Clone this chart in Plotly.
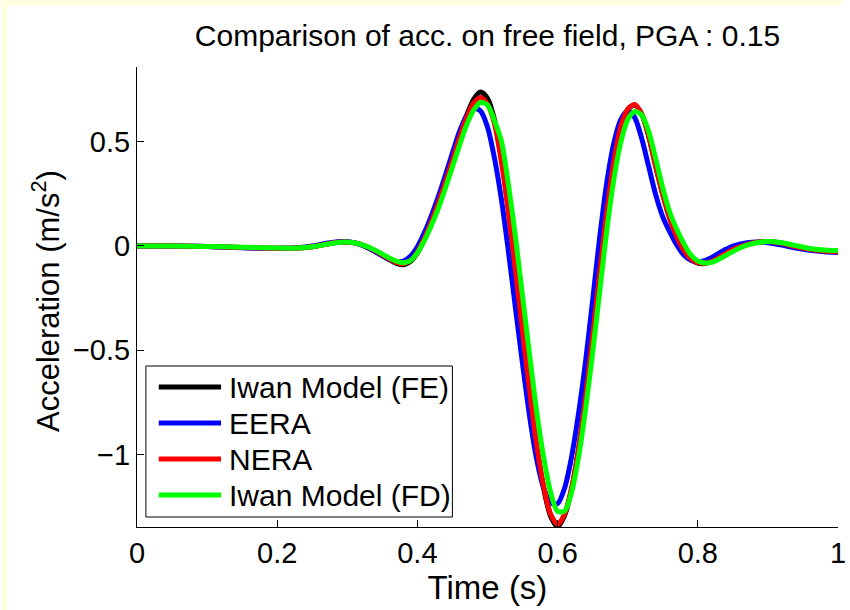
import plotly.graph_objects as go

# Time samples (s)
time_s = [0.00, 0.05, 0.10, 0.15, 0.20, 0.23, 0.25, 0.27, 0.29, 0.31, 0.33, 0.35,
          0.36, 0.37, 0.38, 0.39, 0.40, 0.41, 0.42, 0.43, 0.44, 0.45, 0.46, 0.47,
          0.48, 0.49, 0.50, 0.51, 0.52, 0.53, 0.54, 0.55, 0.56, 0.57, 0.58, 0.59,
          0.60, 0.61, 0.62, 0.63, 0.64, 0.65, 0.66, 0.67, 0.68, 0.69, 0.70, 0.71,
          0.72, 0.73, 0.74, 0.75, 0.76, 0.77, 0.78, 0.79, 0.80, 0.81, 0.82, 0.83,
          0.84, 0.85, 0.87, 0.89, 0.90, 0.92, 0.94, 0.96, 0.98, 1.00]

# Free-field acceleration (m/s^2)
iwan_fe = [0.000, 0.000, -0.002, -0.007, -0.011, -0.010, -0.004, 0.009, 0.019, 0.015, -0.008, -0.046,
           -0.066, -0.083, -0.090, -0.075, -0.033, 0.033, 0.113, 0.205, 0.307, 0.414, 0.524, 0.624,
           0.702, 0.738, 0.708, 0.605, 0.415, 0.168, -0.118, -0.412, -0.695, -0.958, -1.160, -1.295,
           -1.345, -1.292, -1.165, -0.972, -0.720, -0.428, -0.126, 0.163, 0.402, 0.570, 0.654, 0.676,
           0.632, 0.527, 0.384, 0.250, 0.135, 0.048, -0.019, -0.063, -0.082, -0.084, -0.075, -0.057,
           -0.037, -0.018, 0.008, 0.020, 0.021, 0.013, -0.003, -0.016, -0.024, -0.027]

eera = [0.000, 0.000, -0.003, -0.009, -0.012, -0.008, 0.000, 0.013, 0.022, 0.016, -0.010, -0.047,
        -0.064, -0.075, -0.073, -0.050, -0.004, 0.064, 0.146, 0.238, 0.340, 0.446, 0.548, 0.624,
        0.660, 0.648, 0.570, 0.420, 0.220, -0.030, -0.300, -0.565, -0.815, -1.020, -1.160, -1.232,
        -1.235, -1.160, -1.010, -0.800, -0.550, -0.260, 0.040, 0.300, 0.490, 0.605, 0.648, 0.615,
        0.515, 0.380, 0.245, 0.140, 0.068, 0.005, -0.043, -0.068, -0.076, -0.070, -0.055, -0.035,
        -0.016, 0.000, 0.016, 0.019, 0.016, 0.004, -0.010, -0.021, -0.028, -0.031]

nera = [0.000, 0.000, -0.002, -0.007, -0.011, -0.010, -0.004, 0.009, 0.019, 0.016, -0.006, -0.043,
        -0.062, -0.078, -0.085, -0.070, -0.028, 0.038, 0.118, 0.208, 0.308, 0.412, 0.518, 0.612,
        0.684, 0.712, 0.680, 0.585, 0.400, 0.160, -0.120, -0.410, -0.690, -0.950, -1.150, -1.285,
        -1.335, -1.285, -1.160, -0.970, -0.720, -0.430, -0.130, 0.160, 0.400, 0.570, 0.655, 0.678,
        0.632, 0.525, 0.380, 0.245, 0.130, 0.045, -0.020, -0.062, -0.080, -0.082, -0.073, -0.056,
        -0.036, -0.017, 0.008, 0.020, 0.021, 0.013, -0.003, -0.016, -0.024, -0.027]

iwan_fd = [0.000, 0.000, -0.002, -0.006, -0.010, -0.010, -0.004, 0.008, 0.018, 0.016, -0.005, -0.039,
           -0.058, -0.073, -0.080, -0.070, -0.033, 0.027, 0.100, 0.182, 0.278, 0.380, 0.482, 0.578,
           0.650, 0.688, 0.676, 0.600, 0.500, 0.290, 0.040, -0.240, -0.520, -0.790, -1.010, -1.180,
           -1.272, -1.270, -1.180, -1.010, -0.780, -0.510, -0.220, 0.070, 0.315, 0.495, 0.605, 0.645,
           0.628, 0.548, 0.418, 0.278, 0.162, 0.080, 0.012, -0.043, -0.072, -0.081, -0.078, -0.064,
           -0.045, -0.026, 0.004, 0.019, 0.022, 0.016, 0.002, -0.012, -0.019, -0.022]

series_names = ["Iwan Model (FE)", "EERA", "NERA", "Iwan Model (FD)"]
series_colors = ["#000000", "#0000FF", "#FF0000", "#00FF00"]
series_values = [iwan_fe, eera, nera, iwan_fd]

x_ticks = [0, 0.2, 0.4, 0.6, 0.8, 1]
x_ticktext = ["0", "0.2", "0.4", "0.6", "0.8", "1"]
y_ticks = [-1, -0.5, 0, 0.5]
y_ticktext = ["\u22121", "\u22120.5", "0", "0.5"]

FONT = "Liberation Sans, Arial, Helvetica, sans-serif"
W, H = 850, 610
ML, MR, MT, MB = 137, 4, 67, 83
PW, PH = W - ML - MR, H - MT - MB


def px_x(px):
    return (px - ML) / PW


def px_y(py):
    return (H - MB - py) / PH


fig = go.Figure()
for name, color, vals in zip(series_names, series_colors, series_values):
    fig.add_trace(go.Scatter(
        x=time_s, y=vals, name=name, mode="lines",
        line=dict(color=color, width=5, shape="spline", smoothing=0.8),
        showlegend=False,
    ))

shapes = [
    # pale yellow frame on the left and top edges
    dict(type="rect", xref="paper", yref="paper", x0=px_x(0), x1=px_x(6), y0=px_y(H), y1=px_y(0),
         fillcolor="#FFFFDD", line=dict(width=0), layer="below"),
    dict(type="rect", xref="paper", yref="paper", x0=px_x(0), x1=px_x(W), y0=px_y(5), y1=px_y(0),
         fillcolor="#FFFFDD", line=dict(width=0), layer="below"),
    # legend box
    dict(type="rect", xref="paper", yref="paper", x0=px_x(146), x1=px_x(456), y0=px_y(517), y1=px_y(366),
         fillcolor="white", line=dict(color="black", width=1), layer="above"),
]
annotations = []
row_y = [387, 423, 459, 495]
for name, color, ry in zip(series_names, series_colors, row_y):
    shapes.append(dict(type="line", xref="paper", yref="paper", x0=px_x(159), x1=px_x(222),
                       y0=px_y(ry), y1=px_y(ry), line=dict(color=color, width=5), layer="above"))
    annotations.append(dict(text=name, xref="paper", yref="paper", x=px_x(228), y=px_y(ry),
                            xanchor="left", yanchor="middle", showarrow=False,
                            font=dict(family=FONT, size=30, color="black")))

# y-axis title, placed as a rotated annotation
annotations.append(dict(text="Acceleration (m/s<sup>2</sup>)", xref="paper", yref="paper",
                        x=px_x(45), y=px_y(301), xanchor="center", yanchor="middle",
                        textangle=-90, showarrow=False,
                        font=dict(family=FONT, size=31, color="black")))

fig.update_layout(
    width=W, height=H,
    margin=dict(l=ML, r=MR, t=MT, b=MB, pad=0),
    paper_bgcolor="white", plot_bgcolor="white",
    font=dict(family=FONT, color="black"),
    title=dict(text="Comparison of acc. on free field, PGA : 0.15",
               font=dict(family=FONT, size=30, color="black"),
               x=0.5, xref="paper", xanchor="center",
               y=1 - 35 / H, yref="container", yanchor="middle"),
    xaxis=dict(range=[0, 1], tickvals=x_ticks, ticktext=x_ticktext,
               showline=True, linecolor="black", linewidth=1, mirror=False,
               ticks="inside", ticklen=7, tickwidth=1, tickcolor="black",
               showgrid=False, zeroline=False, ticklabeloverflow="allow",
               tickfont=dict(family=FONT, size=29, color="black"),
               title=dict(text="Time (s)", font=dict(family=FONT, size=33, color="black"), standoff=2)),
    yaxis=dict(range=[-1.347, 0.858], tickvals=y_ticks, ticktext=y_ticktext,
               showline=True, linecolor="black", linewidth=1, mirror=False,
               ticks="inside", ticklen=7, tickwidth=1, tickcolor="black",
               showgrid=False, zeroline=False,
               tickfont=dict(family=FONT, size=29, color="black")),
    shapes=shapes,
    annotations=annotations,
)

fig.write_html("out.html")
